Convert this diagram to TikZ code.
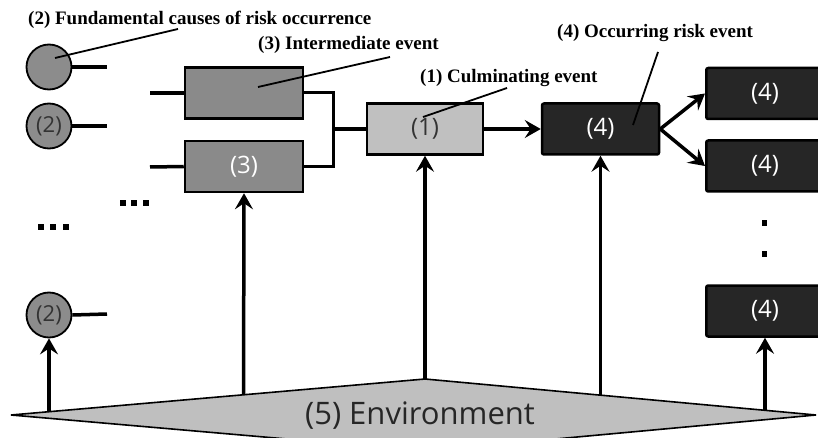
\documentclass[tikz,border=0pt]{standalone}
\usepackage{fontspec}
\setmainfont{Liberation Serif}
\newfontfamily\boxfont{Open Sans}
\usetikzlibrary{arrows.meta}
\definecolor{causegray}{HTML}{8C8C8C}
\definecolor{midgray}{HTML}{8A8A8A}
\definecolor{culmgray}{HTML}{C0C0C0}
\definecolor{riskdark}{HTML}{262626}
\definecolor{envgray}{HTML}{BFBFBF}
\begin{document}
\begin{tikzpicture}[x=1pt,y=-1pt,
  cause/.style={circle,draw=black,line width=1.8pt,fill=causegray,minimum size=45pt,inner sep=0pt,text=black!80,font=\boxfont\fontsize{22}{22}\selectfont},
  box/.style={draw=black,line width=2.5pt,minimum height=51pt,inner sep=0pt,font=\boxfont\fontsize{24}{24}\selectfont},
  midbox/.style={box,fill=midgray,text=white,minimum width=118pt},
  culmbox/.style={box,fill=culmgray,text=black!80,minimum width=116pt},
  riskbox/.style={box,fill=riskdark,text=white,minimum width=117pt,rounded corners=2pt},
  risktext/.style={font=\boxfont\fontsize{24}{24}\selectfont,text=white,inner sep=0pt},
  conn/.style={line width=3.5pt},
  arr/.style={line width=3.5pt,-{Stealth[length=16pt,width=18pt,inset=6pt]}},
  leader/.style={line width=1.8pt},
  lab/.style={font=\bfseries\fontsize{19}{19}\selectfont,inner sep=0pt,anchor=west},
  dotsq/.style={fill=black}
]
\useasboundingbox (0,0) rectangle (818,438);
\clip (0,0) rectangle (818,438);

% environment diamond
\draw[fill=envgray,line width=1.6pt] (11,415) -- (425,379) -- (816,415) -- (425,451) -- cycle;
\node[font=\boxfont\fontsize{31}{31}\selectfont,inner sep=0pt,text=black!85] (env) at (420,416) {(5) Environment};
\coordinate (e1) at (49,411.7);
\coordinate (e2) at (243.5,394.8);
\coordinate (e3) at (425,379);
\coordinate (e4) at (600.5,395.1);
\coordinate (e5) at (765,410.3);

% causes
\node[cause] (ca) at (49,67) {};
\node[cause] (cb) at (49,126) {(2)};
\node[cause] (cc) at (49,315) {(2)};
\coordinate (ta) at (107,67);
\coordinate (tb) at (107,126);
\coordinate (tc) at (107,314);
\draw[conn] (ca.east) -- (ta);
\draw[conn] (cb.east) -- (tb);
\draw[conn] (cc.east) -- (tc);

% intermediate events
\node[midbox] (ma) at (244,93) {};
\node[midbox] (mb) at (244,166.5) {(3)};
\coordinate (la) at (150,93);
\coordinate (lb) at (150,167);
\draw[conn] (la) -- (ma.west);
\draw[conn] (lb) -- (mb.west);
\coordinate (jn) at (333,129);
\draw[line width=3pt] (ma.east) -| (jn) |- (mb.east);

% culminating event
\node[culmbox] (cu) at (425,129) {(1)};
\draw[conn] (jn) -- (cu.west);

% risk events
\node[riskbox] (rk) at (600.5,129) {(4)};
\node[riskbox,minimum width=125pt,anchor=west] (ra) at (705,93.5) {};
\node[riskbox,minimum width=125pt,anchor=west] (rb) at (705,166) {};
\node[riskbox,minimum width=125pt,anchor=west] (rc) at (705,311) {};
\node[risktext] (ta4) at (765,93.5) {(4)};
\node[risktext] (tb4) at (765,166) {(4)};
\node[risktext] (tc4) at (765,311) {(4)};

\draw[arr] (cu.east) -- (rk.west);
\draw[arr] (rk.east) -- (ra.west);
\draw[arr] (rk.east) -- (rb.west);

% dots
\fill[dotsq] (120,200) rectangle (126,206);
\fill[dotsq] (131,200) rectangle (137,206);
\fill[dotsq] (143,200) rectangle (149,206);
\fill[dotsq] (38,224) rectangle (44,230);
\fill[dotsq] (50,224) rectangle (56,230);
\fill[dotsq] (63,224) rectangle (69,230);
\fill[dotsq] (762,220) rectangle (767,226);
\fill[dotsq] (762,251) rectangle (767,257);

% environment arrows
\draw[arr] (e1) -- (cc.south);
\draw[arr] (e2) -- (mb.south);
\draw[arr] (e3) -- (cu.south);
\draw[arr] (e4) -- (rk.south);
\draw[arr] (e5) -- (e5 |- rc.south);

% labels
\node[lab] (l2) at (28,20) {(2) Fundamental causes of risk occurrence};
\node[lab] (l3) at (258,45) {(3) Intermediate event};
\node[lab] (l1) at (420,78) {(1) Culminating event};
\node[lab] (l4) at (557,33) {(4) Occurring risk event};
\coordinate (p2) at (178,29);
\coordinate (q2) at (55,58);
\coordinate (p3) at (390,57);
\coordinate (q3) at (258,87);
\coordinate (p1) at (507,88);
\coordinate (q1) at (423,117);
\coordinate (p4) at (658,52);
\coordinate (q4) at (633,125);
\draw[leader] (p2) -- (q2);
\draw[leader] (p3) -- (q3);
\draw[leader] (p1) -- (q1);
\draw[leader] (p4) -- (q4);
\end{tikzpicture}
\end{document}
